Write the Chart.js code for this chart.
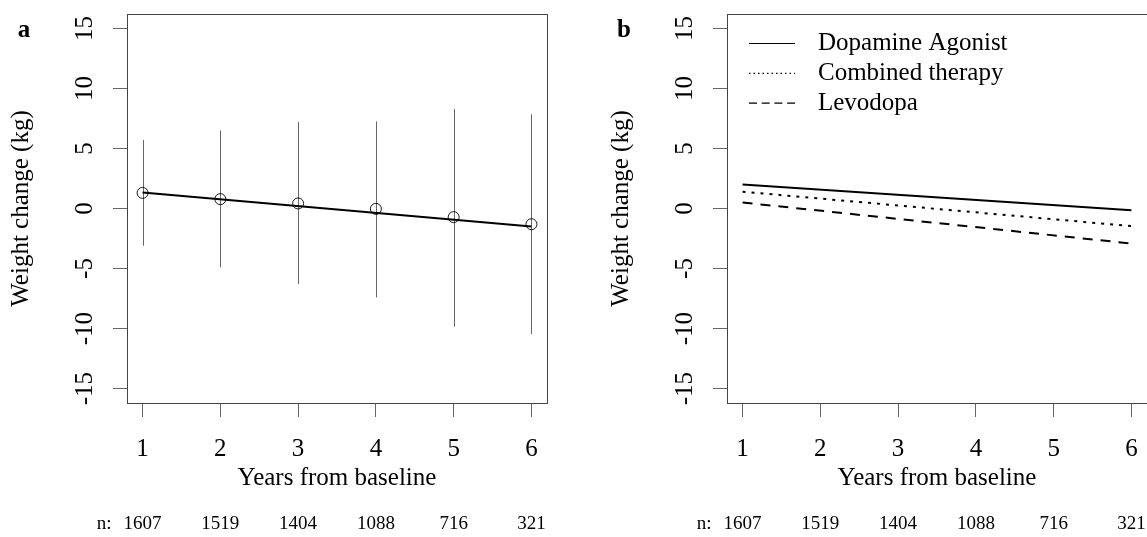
<!DOCTYPE html>
<html>
<head>
<meta charset="utf-8">
<title>Weight change by years from baseline</title>
<script src="https://cdn.jsdelivr.net/npm/chart.js@4.4.1/dist/chart.umd.min.js"></script>
<style>
  html, body { margin: 0; padding: 0; background: #fff; overflow: hidden; }
  #wrap { position: relative; width: 1147px; height: 537px; overflow: hidden; }
  canvas { position: absolute; top: 0; }
  #chartA { left: 0; }
  #chartB { left: 600px; }
</style>
</head>
<body>
<div id="wrap">
  <canvas id="chartA" width="574" height="537"></canvas>
  <canvas id="chartB" width="574" height="537"></canvas>
</div>
<script>
// values
const years = [1, 2, 3, 4, 5, 6];
const nAtRisk = [1607, 1519, 1404, 1088, 716, 321];
const yTicks = [-15, -10, -5, 0, 5, 10, 15];

// panel a: mean change per year and the spread around it
const meanChange = [1.3, 0.78, 0.42, -0.03, -0.72, -1.31];
const upperBar = [5.7, 6.5, 7.2, 7.25, 8.3, 7.85];
const lowerBar = [-3.1, -4.9, -6.3, -7.4, -9.85, -10.45];

// fitted lines, given at the first and last year
const fitYears = [1, 6];
const fitAll = [1.33, -1.5];

// panel b
const groupNames = ['Dopamine Agonist', 'Combined therapy', 'Levodopa'];
const fitAgonist = [2.0, -0.14];
const fitCombined = [1.4, -1.47];
const fitLevodopa = [0.5, -2.92];

const serif = "'Liberation Serif', 'Times New Roman', serif";

function pts(xs, ys) {
  return xs.map((x, i) => ({ x: x, y: ys[i] }));
}

// R-like axes: box, rotated y labels, n row, panel letter
function framePlugin(letter) {
  return {
    id: 'frame',
    afterDraw(chart) {
      const { ctx, chartArea: a, scales: { x, y } } = chart;
      ctx.save();
      ctx.strokeStyle = '#444';
      ctx.lineWidth = 1;
      ctx.strokeRect(Math.round(a.left) + 0.5, Math.round(a.top) + 0.5,
        Math.round(a.right - a.left), Math.round(a.bottom - a.top));

      ctx.fillStyle = '#000';
      ctx.font = '25px ' + serif;
      ctx.textAlign = 'center';
      ctx.textBaseline = 'alphabetic';
      yTicks.forEach(v => {
        ctx.save();
        ctx.translate(a.left - 35, y.getPixelForValue(v));
        ctx.rotate(-Math.PI / 2);
        ctx.fillText(String(v), 0, 0);
        ctx.restore();
      });

      ctx.font = '19px ' + serif;
      nAtRisk.forEach((n, i) => {
        ctx.fillText(String(n), x.getPixelForValue(years[i]), 529);
      });
      ctx.textAlign = 'right';
      ctx.fillText('n:', x.getPixelForValue(years[0]) - 31, 529);

      ctx.font = 'bold 25px ' + serif;
      ctx.textAlign = 'center';
      ctx.fillText(letter, 24, 37);
      ctx.restore();
    }
  };
}

const errorBars = {
  id: 'errorBars',
  beforeDatasetsDraw(chart) {
    const { ctx, scales: { x, y } } = chart;
    ctx.save();
    ctx.strokeStyle = '#666';
    ctx.lineWidth = 1;
    years.forEach((yr, i) => {
      const px = Math.round(x.getPixelForValue(yr)) + 0.5;
      ctx.beginPath();
      ctx.moveTo(px, y.getPixelForValue(lowerBar[i]));
      ctx.lineTo(px, y.getPixelForValue(upperBar[i]));
      ctx.stroke();
    });
    ctx.restore();
  }
};

const legendDash = [[], [1.5, 3], [8, 4.7]];
const legendB = {
  id: 'legendB',
  afterDraw(chart) {
    const { ctx, chartArea: a } = chart;
    ctx.save();
    ctx.font = '25px ' + serif;
    ctx.fillStyle = '#000';
    ctx.strokeStyle = '#000';
    ctx.lineWidth = 1.2;
    ctx.textAlign = 'left';
    ctx.textBaseline = 'middle';
    chart.data.datasets.forEach((ds, i) => {
      const ly = a.top + 29.5 + i * 29.8;
      ctx.setLineDash(legendDash[i]);
      ctx.beginPath();
      ctx.moveTo(a.left + 22, ly);
      ctx.lineTo(a.left + 68, ly);
      ctx.stroke();
      ctx.fillText(ds.label, a.left + 91, ly);
    });
    ctx.restore();
  }
};

function axes() {
  const tickGrid = { drawOnChartArea: false, drawTicks: true, tickLength: 14, color: '#666', lineWidth: 1 };
  return {
    x: {
      type: 'linear', min: 0.8, max: 6.2,
      afterBuildTicks: s => { s.ticks = years.map(v => ({ value: v })); },
      afterFit: s => { s.height = 134; },
      grid: tickGrid,
      border: { display: false },
      ticks: { color: '#000', font: { family: serif, size: 25 }, padding: 17, maxRotation: 0, autoSkip: false },
      title: { display: true, text: 'Years from baseline', color: '#000',
        font: { family: serif, size: 25 }, padding: { top: 0, bottom: 44 } }
    },
    y: {
      type: 'linear', min: -16.2, max: 16.2,
      afterBuildTicks: s => { s.ticks = yTicks.map(v => ({ value: v })); },
      afterFit: s => { s.width = 127; },
      grid: tickGrid,
      border: { display: false },
      ticks: { display: false },
      title: { display: true, text: 'Weight change (kg)', color: '#000',
        font: { family: serif, size: 25 }, padding: { top: 6, bottom: 0 } }
    }
  };
}

const common = {
  responsive: false,
  animation: false,
  layout: { padding: { top: 14, right: 27, left: 0, bottom: 0 } },
  plugins: { legend: { display: false }, tooltip: { enabled: false } }
};

new Chart(document.getElementById('chartA'), {
  type: 'scatter',
  data: {
    datasets: [
      {
        label: 'Mean change',
        data: pts(years, meanChange),
        showLine: false,
        pointStyle: 'circle',
        pointRadius: 5.5,
        pointBorderWidth: 0.9,
        pointBorderColor: '#000',
        pointBackgroundColor: 'rgba(0,0,0,0)'
      },
      {
        label: 'Fitted',
        data: pts(fitYears, fitAll),
        showLine: true,
        borderColor: '#000',
        borderWidth: 2,
        pointRadius: 0
      }
    ]
  },
  options: Object.assign({}, common, { scales: axes() }),
  plugins: [errorBars, framePlugin('a')]
});

new Chart(document.getElementById('chartB'), {
  type: 'scatter',
  data: {
    datasets: [
      { label: groupNames[0], data: pts(fitYears, fitAgonist), borderDash: [] },
      { label: groupNames[1], data: pts(fitYears, fitCombined), borderDash: [3, 6] },
      { label: groupNames[2], data: pts(fitYears, fitLevodopa), borderDash: [10, 8] }
    ].map(ds => Object.assign(ds, {
      showLine: true, borderColor: '#000', borderWidth: 2, borderCapStyle: 'butt', pointRadius: 0
    }))
  },
  options: Object.assign({}, common, { scales: axes() }),
  plugins: [framePlugin('b'), legendB]
});
</script>
</body>
</html>
